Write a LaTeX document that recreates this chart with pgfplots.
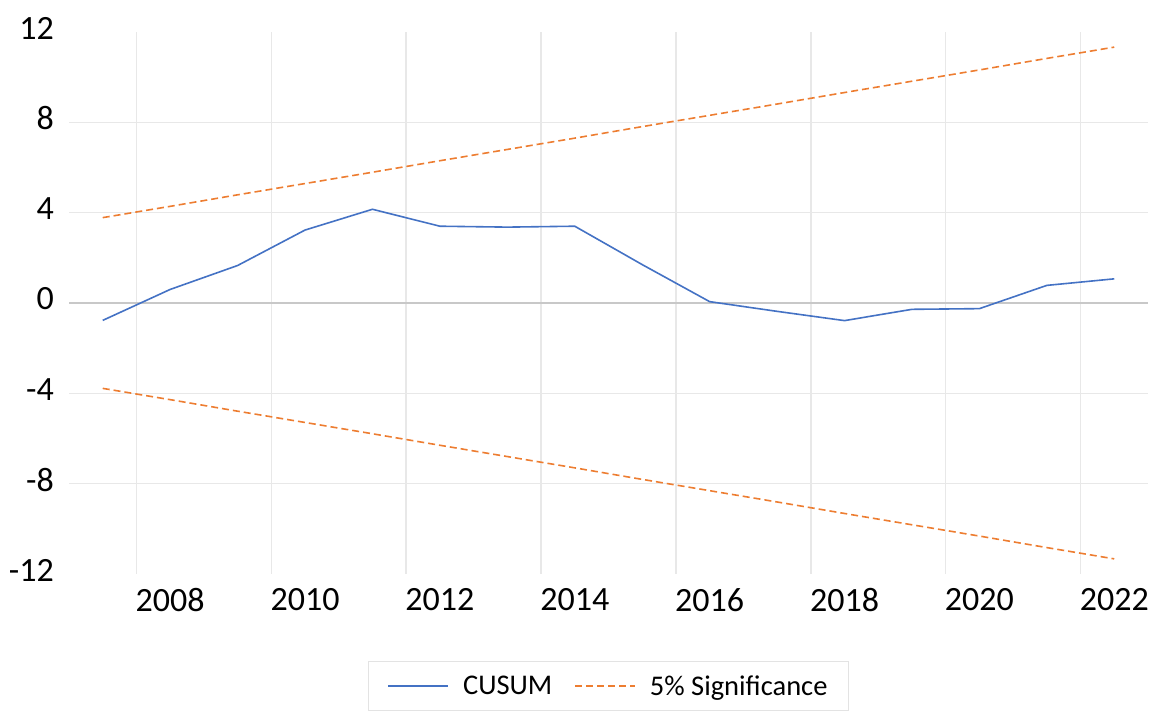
\documentclass[border=0pt]{standalone}
\usepackage{pgfplots}
\pgfplotsset{compat=1.18}
\usepackage{fontspec}
\setmainfont{Carlito}
\definecolor{cblue}{HTML}{4472C4}
\definecolor{corange}{HTML}{ED7D31}
\definecolor{gridc}{HTML}{E8E8E8}
\definecolor{legc}{HTML}{E3E3E3}
\definecolor{zeroc}{HTML}{C8C8C8}
\begin{document}
\begin{tikzpicture}
\useasboundingbox (0,0) rectangle (1157pt,713pt);
\begin{axis}[
  at={(69pt,139pt)}, anchor=south west,
  scale only axis, width=1079pt, height=542pt,
  xmin=2006.5, xmax=2022.5, ymin=-12, ymax=12,
  axis line style={draw=none},
  tick style={draw=none},
  xtick={2008,2010,...,2022},
  xticklabels={2008,2010,2012,2014,2016,2018,2020,2022},
  minor xtick={2007.5,2009.5,...,2021.5},
  xminorgrids=true,
  ytick={-12,-8,-4,0,4,8,12},
  yticklabels={-12,-8,-4,0,4,8,12},
  extra y ticks={-8,-4,4,8},
  extra y tick labels={},
  extra y tick style={ymajorgrids=true, grid style={gridc, line width=1.5pt}},
  minor grid style={gridc, line width=1.5pt},
  xticklabel style={font=\fontsize{34}{40}\selectfont, anchor=north, inner sep=0pt, yshift=-14pt},
  yticklabel style={font=\fontsize{34}{40}\selectfont, anchor=east, inner sep=0pt, xshift=-15pt, yshift=4pt},
  legend columns=2,
  legend style={at={(0.5,-0.1605)}, anchor=north, draw=legc, line width=1pt,
    font=\fontsize{28.5}{34}\selectfont, inner xsep=19pt, inner ysep=12pt,
    /tikz/every odd column/.append style={column sep=12pt},
    /tikz/every even column/.append style={column sep=20pt}},
  legend image code/.code={\draw[#1] (0pt,0pt) -- (60pt,0pt);},
  clip=false,
]
\draw[zeroc, line width=2pt] (axis cs:2006.5,0) -- (axis cs:2022.5,0);
\addplot[cblue, line width=1.6pt] coordinates {
(2007,-0.77) (2008,0.60) (2009,1.66) (2010,3.23) (2011,4.15) (2012,3.40)
(2013,3.36) (2014,3.40) (2015,1.70) (2016,0.06) (2017,-0.37) (2018,-0.78)
(2019,-0.28) (2020,-0.25) (2021,0.78) (2022,1.07)};
\addlegendentry{CUSUM}
\addplot[corange, line width=1.6pt, dash pattern=on 7pt off 4pt] coordinates {
(2007,3.78) (2008,4.28) (2009,4.79) (2010,5.29) (2011,5.79) (2012,6.30)
(2013,6.80) (2014,7.30) (2015,7.81) (2016,8.31) (2017,8.81) (2018,9.32)
(2019,9.82) (2020,10.32) (2021,10.83) (2022,11.33)};
\addlegendentry{5\% Significance}
\addplot[corange, line width=1.6pt, dash pattern=on 7pt off 4pt, forget plot] coordinates {
(2007,-3.78) (2008,-4.28) (2009,-4.79) (2010,-5.29) (2011,-5.79) (2012,-6.30)
(2013,-6.80) (2014,-7.30) (2015,-7.81) (2016,-8.31) (2017,-8.81) (2018,-9.32)
(2019,-9.82) (2020,-10.32) (2021,-10.83) (2022,-11.33)};
\end{axis}
\end{tikzpicture}
\end{document}
